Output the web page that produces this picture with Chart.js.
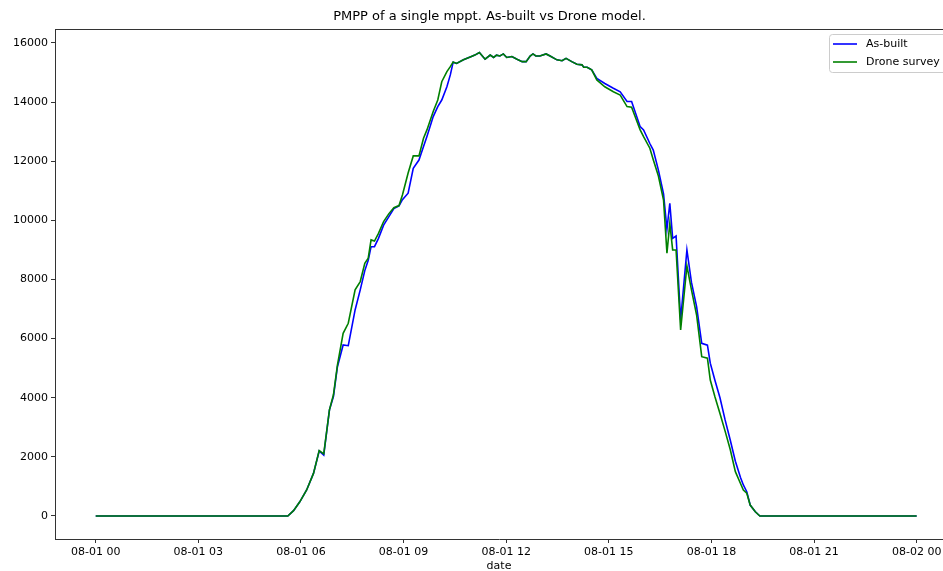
<!DOCTYPE html>
<html><head><meta charset="utf-8">
<script src="https://cdn.jsdelivr.net/npm/chart.js@4"></script>
<style>html,body{margin:0;padding:0;background:#fff;overflow:hidden;} #wrap{width:943px;height:571px;position:relative;}</style>
</head><body><div id="wrap"><canvas id="c"></canvas></div>
<script>
// ---- data ----
const times = ["00:00","05:37","05:47","05:58","06:10","06:22","06:32","06:40","06:50","06:57",
  "07:04","07:14","07:23","07:35","07:44","07:52","07:58","08:03","08:09","08:16",
  "08:25","08:34","08:43","08:52","08:58","09:08","09:17","09:27","09:35","09:41",
  "09:52","10:00","10:07","10:16","10:22","10:27","10:33","10:45","10:59","11:05",
  "11:13","11:23","11:32","11:38","11:43","11:49","11:55","12:01","12:10","12:19",
  "12:28","12:35","12:42","12:47","12:52","12:59","13:10","13:17","13:29","13:38",
  "13:45","13:55","14:04","14:13","14:16","14:22","14:30","14:39","14:53","15:08",
  "15:20","15:32","15:40","15:55","16:01","16:12","16:18","16:27","16:36","16:42",
  "16:47","16:52","16:58","17:06","17:17","17:25","17:34","17:43","17:53","17:58",
  "18:06","18:15","18:24","18:33","18:42","18:51","18:56","19:02","19:08","19:17",
  "19:25","24:00"];
const asBuilt = [0,0,180,480,880,1440,2200,2060,3590,4040,
  5050,5785,5760,6970,7650,8300,8650,9110,9110,9390,
  9840,10120,10400,10490,10700,10920,11760,12040,12500,12840,
  13510,13850,14070,14520,14920,15350,15310,15430,15540,15590,
  15680,15450,15590,15510,15590,15560,15630,15510,15540,15450,
  15370,15370,15560,15630,15560,15560,15630,15560,15430,15400,
  15480,15370,15280,15260,15180,15180,15090,14800,14630,14470,
  14350,14020,14020,13170,13060,12600,12380,11700,10900,9700,
  10580,9390,9470,6630,9000,7900,7080,5840,5780,5170,
  4600,4000,3250,2570,1850,1300,1050,820,370,145,
  0,0];
const droneSurvey = [0,0,180,480,880,1440,2210,2100,3590,4100,
  5100,6180,6520,7650,7930,8550,8720,9340,9300,9560,
  9960,10220,10430,10500,10860,11600,12180,12180,12780,13060,
  13680,14070,14690,15030,15200,15360,15310,15430,15540,15590,
  15680,15450,15590,15510,15590,15560,15630,15510,15540,15450,
  15370,15370,15560,15630,15560,15560,15630,15560,15430,15400,
  15480,15370,15280,15260,15180,15180,15090,14750,14520,14350,
  14240,13850,13830,13060,12830,12440,12050,11500,10690,8890,
  9900,9000,9000,6290,8460,7650,6800,5390,5340,4600,
  4040,3470,2870,2250,1500,1100,880,770,370,145,
  0,0];
const tickHours = [0,3,6,9,12,15,18,21,24];
const tickLabels = ["08-01 00","08-01 03","08-01 06","08-01 09","08-01 12","08-01 15","08-01 18","08-01 21","08-02 00"];
const yTicks = [0,2000,4000,6000,8000,10000,12000,14000,16000];
const seriesNames = ["As-built","Drone survey"];
const titleText = "PMPP of a single mppt. As-built vs Drone model.";

// ---- helpers ----
const toHours = t => { const [h,m] = t.split(":").map(Number); return h + m/60; };
const pts = arr => arr.map((v,i) => ({x: toHours(times[i]), y: v}));
const FONT = "'DejaVu Sans', sans-serif";

const decor = {
  id: 'decor',
  afterDraw(chart) {
    const ctx = chart.ctx, a = chart.chartArea;
    ctx.save();
    // top spine
    ctx.strokeStyle = '#333'; ctx.lineWidth = 1;
    ctx.beginPath(); ctx.moveTo(a.left, a.top + 0.5); ctx.lineTo(a.right, a.top + 0.5); ctx.stroke();
    // title
    ctx.fillStyle = '#000'; ctx.font = "13px " + FONT;
    ctx.textAlign = 'center'; ctx.textBaseline = 'middle';
    ctx.fillText(titleText, 489.5, 17);
    // legend
    const lx = 829.5, ly = 34.5, lw = 130, lh = 38;
    ctx.fillStyle = 'rgba(255,255,255,0.8)'; ctx.strokeStyle = '#cccccc'; ctx.lineWidth = 1;
    ctx.beginPath(); ctx.roundRect(lx, ly, lw, lh, 3); ctx.fill(); ctx.stroke();
    const ds = [chart.data.datasets[0], chart.data.datasets[1]];
    const rows = [44, 62];
    ds.forEach((d, i) => {
      ctx.strokeStyle = d.borderColor; ctx.lineWidth = 1.6;
      ctx.beginPath(); ctx.moveTo(833, rows[i]); ctx.lineTo(857, rows[i]); ctx.stroke();
      ctx.fillStyle = '#000'; ctx.font = "11px " + FONT;
      ctx.textAlign = 'left'; ctx.textBaseline = 'middle';
      ctx.fillText(d.label, 866, rows[i]);
    });
    ctx.restore();
  }
};

new Chart(document.getElementById('c'), {
  type: 'line',
  data: {
    datasets: [
      { label: seriesNames[0], data: pts(asBuilt), borderColor: '#0000ff', borderWidth: 1.6,
        pointRadius: 0, fill: false, tension: 0, order: 1 },
      { label: seriesNames[1], data: pts(droneSurvey), borderColor: '#008000', borderWidth: 1.6,
        pointRadius: 0, fill: false, tension: 0, order: 0 }
    ]
  },
  options: {
    responsive: true, maintainAspectRatio: false, animation: false, devicePixelRatio: 1,
    layout: { padding: { top: 29, left: 0, right: 0, bottom: 0 } },
    plugins: { legend: { display: false }, title: { display: false }, tooltip: { enabled: false } },
    scales: {
      x: {
        type: 'linear', min: -1.19, max: 24.77,
        afterBuildTicks: s => { s.ticks = tickHours.map(v => ({ value: v })); },
        afterFit: s => { s.height = 32; s.paddingLeft = 0; s.paddingRight = 0; },
        ticks: { autoSkip: false, maxRotation: 0, minRotation: 0, padding: 3, color: '#000',
          font: { family: FONT, size: 11 },
          callback: (v) => tickLabels[tickHours.indexOf(v)] },
        grid: { display: true, drawOnChartArea: false, drawTicks: true, tickLength: 4, tickColor: '#333', tickWidth: 1 },
        border: { display: true, color: '#333', width: 1 },
        title: { display: true, text: 'date', color: '#000', font: { family: FONT, size: 11 }, padding: { top: 0, bottom: -2 } }
      },
      y: {
        type: 'linear', min: -778, max: 16473,
        afterBuildTicks: s => { s.ticks = yTicks.map(v => ({ value: v })); },
        afterFit: s => { s.width = 55; s.paddingTop = 0; s.paddingBottom = 0; },
        ticks: { padding: 3, color: '#000', font: { family: FONT, size: 11 }, callback: v => String(v) },
        grid: { display: true, drawOnChartArea: false, drawTicks: true, tickLength: 4, tickColor: '#333', tickWidth: 1 },
        border: { display: true, color: '#333', width: 1 }
      }
    }
  },
  plugins: [decor]
});
</script></body></html>
